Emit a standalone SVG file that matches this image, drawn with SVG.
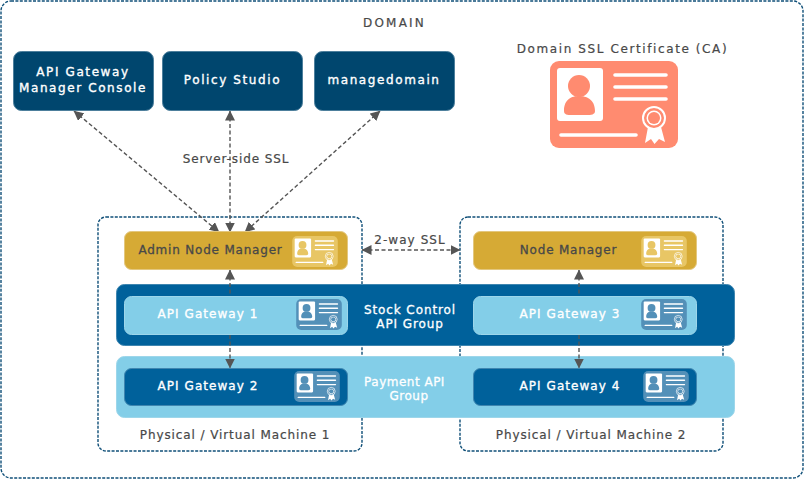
<svg xmlns="http://www.w3.org/2000/svg" width="804" height="479" viewBox="0 0 804 479">
<style>
text{font-family:"DejaVu Sans",Verdana,sans-serif;font-size:12px;letter-spacing:.9px;text-anchor:middle;fill:#484848;stroke:#484848;stroke-width:.2}
.w{fill:#fff;stroke:#fff;stroke-width:.35;letter-spacing:1.6px}
.t{fill:#fff;stroke:#fff;stroke-width:.35;letter-spacing:1.05px}
.a{fill:#fff;stroke:#fff;stroke-width:.3;letter-spacing:.9px}
.p{fill:#fff;stroke:#fff;stroke-width:.3;letter-spacing:.5px}
.m{letter-spacing:.8px;stroke-width:.3}
.frame{fill:none;stroke:#0f4f78;stroke-width:1.4;stroke-dasharray:3 1.4}
.conn{fill:none;stroke:#555;stroke-width:1.4;stroke-dasharray:4 2.5;marker-start:url(#h);marker-end:url(#h)}
.dark{fill:#00466e;stroke:#4d7f9c}
.gold{fill:#d6aa35;stroke:#e3c77e}
.light{fill:#83cee8;stroke:#9dd6ea}
.blue{fill:#00619b;stroke:#3f86b0}
.c{--bg:#5390b8;--fg:#fff;--r:14px}
.g{--bg:#e8c665;--fg:#fff;--r:14px}
</style>
<defs>
<marker id="h" viewBox="0 0 10 10" refX="9.500" refY="5" markerWidth="10" markerHeight="10" orient="auto-start-reverse" markerUnits="userSpaceOnUse"><path d="M0 0L10 5L0 10z" fill="#555"/></marker>
<symbol id="cert" viewBox="0 0 128 87">
<rect width="128" height="87" style="rx:var(--r,9px)" fill="var(--bg)"/>
<rect x="7" y="7" width="46" height="53" rx="3" fill="var(--fg)"/>
<circle cx="29" cy="25" r="11" fill="var(--bg)"/>
<path d="M14 50C14 38 22 35 29 35S45 38 45 50C45 55 38 54 29 54S14 55 14 50z" fill="var(--bg)"/>
<g stroke="var(--fg)" stroke-width="3.6" stroke-linecap="round" fill="none">
<path d="M65 14H116M65 26H116M65 38H116M11 74H86"/>
</g>
<path d="M98 66L95 82L101 78L104.500 83L109 78L115 81L111 66z" fill="var(--fg)"/>
<circle cx="104" cy="57" r="11" fill="var(--bg)" stroke="var(--fg)" stroke-width="2"/>
<circle cx="104" cy="57" r="7.500" fill="var(--fg)"/>
<circle cx="104" cy="57" r="6" fill="var(--bg)"/>
</symbol>
</defs>

<rect id="domain" class="frame" x="1" y="1" width="802" height="477" rx="10"/>
<text x="394.500" y="27" style="letter-spacing:2.2px">DOMAIN</text>

<rect id="machine1" class="frame" x="98" y="217" width="264" height="234" rx="8"/>
<rect id="machine2" class="frame" x="460" y="217" width="263" height="234" rx="8"/>
<text x="235" y="439">Physical / Virtual Machine 1</text>
<text x="591" y="439">Physical / Virtual Machine 2</text>

<g id="group-stock"><rect class="blue" x="116.500" y="284.500" width="618" height="61" rx="8"/>
<text class="a" x="410" y="314">Stock Control</text><text class="a" x="410" y="328">API Group</text></g>
<g id="group-payment"><rect class="light" x="116.500" y="356.500" width="618" height="61" rx="8"/>
<text class="p" x="404.500" y="386">Payment API</text><text class="p" x="409" y="400">Group</text></g>

<g id="connectors">
<path class="conn" d="M74 111L219 232"/>
<path class="conn" d="M230 111V232"/>
<path class="conn" d="M380 111L245 232"/>
<path class="conn" d="M362 250H460"/>
<path class="conn" d="M230 270V368"/>
<path class="conn" d="M579 270V368"/>
</g>
<text x="236" y="163">Server-side SSL</text>
<text x="410" y="244" style="letter-spacing:1.05px">2-way SSL</text>

<g id="console"><rect class="dark" x="13.500" y="51.500" width="140" height="59" rx="8"/>
<text class="w" x="83" y="76">API Gateway</text><text class="w" x="83" y="92">Manager Console</text></g>
<g id="policy"><rect class="dark" x="162.500" y="51.500" width="140" height="59" rx="8"/>
<text class="w" x="232.500" y="84">Policy Studio</text></g>
<g id="managed"><rect class="dark" x="314.500" y="51.500" width="140" height="59" rx="8"/>
<text class="w" x="384" y="84">managedomain</text></g>

<g id="ca"><text x="622.500" y="53" style="letter-spacing:1.6px">Domain SSL Certificate (CA)</text>
<use href="#cert" x="550" y="61" width="128" height="87" style="--bg:#ff8b70;--fg:#fff"/></g>

<g id="anm"><rect class="gold" x="124.500" y="231.500" width="223" height="38" rx="7"/>
<text class="m" x="210.500" y="254">Admin Node Manager</text>
<use class="g" href="#cert" x="292" y="236" width="46" height="31"/></g>
<g id="nm"><rect class="gold" x="473.500" y="231.500" width="223" height="38" rx="7"/>
<text class="m" x="568.500" y="254">Node Manager</text>
<use class="g" href="#cert" x="641" y="236" width="46" height="31"/></g>

<g id="gw1"><rect class="light" x="124.500" y="296.500" width="223" height="38" rx="7"/>
<text class="t" x="208" y="318">API Gateway 1</text>
<use class="c" href="#cert" x="296" y="299" width="46" height="31"/></g>
<g id="gw3"><rect class="light" x="473.500" y="296.500" width="223" height="38" rx="7"/>
<text class="t" x="570" y="318">API Gateway 3</text>
<use class="c" href="#cert" x="641" y="299" width="46" height="31"/></g>
<g id="gw2"><rect class="blue" x="124.500" y="368.500" width="223" height="37" rx="7"/>
<text class="t" x="208" y="390">API Gateway 2</text>
<use class="c" href="#cert" x="294" y="371" width="46" height="31"/></g>
<g id="gw4"><rect class="blue" x="473.500" y="368.500" width="223" height="37" rx="7"/>
<text class="t" x="570" y="390">API Gateway 4</text>
<use class="c" href="#cert" x="643" y="371" width="46" height="31"/></g>
</svg>
